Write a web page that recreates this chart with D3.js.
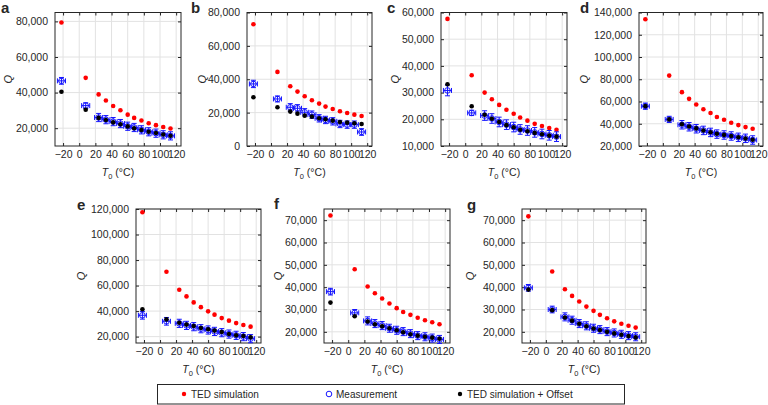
<!DOCTYPE html>
<html><head><meta charset="utf-8">
<script src="https://cdn.jsdelivr.net/npm/d3@7"></script>
<style>
body{margin:0;background:#fff}
text{font-family:"Liberation Sans",Arial,Helvetica,sans-serif;fill:#262626}
</style>
</head><body>
<svg id="chart" width="768" height="405"></svg>
<script>
// ---------------- data ----------------
const temps = [-22, 8, 24, 33, 42, 51, 60, 68, 77, 86, 95, 104, 113];
const xTicks = [-20, 0, 20, 40, 60, 80, 100, 120];
const xErr = [5, 5, 5, 5, 5, 5, 5, 5, 5, 5, 5, 5, 5];

const simA  = [79400, 48300, 39000, 35600, 32500, 30100, 27600, 25800, 24300, 22800, 21700, 20700, 19800];
const measA = [46600, 32700, 26000, 24800, 23700, 22600, 21100, 20400, 19100, 18000, 17200, 16300, 15700];
const offA  = [40500, 30400, 25800, 24600, 23300, 22200, 21000, 20000, 19000, 18000, 17300, 16500, 15800];
const errA  = [1900, 1600, 2300, 2300, 2300, 2300, 2300, 2300, 2300, 2300, 2300, 2300, 2300];
const yTicksA = [20000, 40000, 60000, 80000];

const simB  = [73000, 44400, 35800, 32600, 29800, 27400, 25400, 23600, 22200, 20800, 19800, 18800, 18000];
const measB = [37200, 28200, 23200, 22600, 20200, 18800, 16600, 15600, 14800, 13200, 12800, 12800, 8400];
const offB  = [29200, 23200, 20600, 19400, 18200, 17600, 16600, 16000, 15200, 14400, 14000, 13600, 13200];
const errB  = [2200, 1800, 2200, 2200, 2200, 2200, 2200, 2200, 2200, 2200, 2200, 2200, 2000];
const yTicksB = [0, 20000, 40000, 60000, 80000];

const simC  = [57600, 36500, 30000, 27500, 25400, 23600, 22100, 20700, 19500, 18300, 17500, 16700, 16100];
const measC = [30800, 22400, 21400, 20300, 19000, 18000, 17100, 16200, 15800, 15100, 14500, 14000, 13500];
const offC  = [33100, 24900, 21700, 20200, 19000, 17800, 17000, 16100, 15500, 14900, 14400, 13900, 13500];
const errC  = [2000, 1000, 1800, 1800, 1800, 1800, 1800, 1800, 1800, 1800, 1800, 1800, 1800];
const yTicksC = [10000, 20000, 30000, 40000, 50000, 60000];

const simD  = [134000, 83300, 68400, 62400, 57300, 53100, 49600, 46000, 43600, 40900, 38800, 37000, 35500];
const measD = [55800, 43900, 39100, 37300, 35500, 34000, 32200, 30700, 29900, 29000, 27800, 26900, 25400];
const offD  = [55800, 43900, 39500, 37500, 35800, 34000, 32400, 31000, 30000, 29000, 27800, 26800, 25600];
const errD  = [2800, 2800, 3800, 3800, 3800, 3800, 3800, 3800, 3800, 3800, 3800, 3800, 3800];
const yTicksD = [20000, 40000, 60000, 80000, 100000, 120000, 140000];

const simE  = [117400, 70800, 56700, 51500, 46800, 43100, 39800, 37200, 34500, 32500, 30600, 29100, 27800];
const measE = [36700, 32000, 30400, 28800, 27800, 26200, 25200, 24100, 23100, 22000, 21000, 20000, 18400];
const offE  = [41400, 33500, 30900, 29400, 28300, 26800, 25800, 24700, 23600, 22000, 21000, 20500, 19400];
const errE  = [3000, 3000, 3200, 3200, 3200, 3200, 3200, 3200, 3200, 3200, 3200, 3200, 3200];
const yTicksE = [20000, 40000, 60000, 80000, 100000, 120000];

const simF  = [72100, 48000, 40300, 37300, 34900, 32700, 30600, 28900, 27600, 26300, 25200, 24300, 23400];
const measF = [38000, 28500, 24900, 23700, 22800, 21600, 20700, 20100, 19200, 18300, 17800, 17200, 16600];
const offF  = [33100, 27000, 24600, 23400, 22500, 21600, 20700, 19800, 18900, 18300, 17800, 17400, 16900];
const errF  = [1500, 1500, 1800, 1800, 1800, 1800, 1800, 1800, 1800, 1800, 1800, 1800, 1800];
const yTicksF = [20000, 30000, 40000, 50000, 60000, 70000];

const simG  = [71700, 47000, 39100, 36100, 33600, 31300, 29400, 27600, 26100, 24700, 23600, 22700, 21900];
const measG = [39700, 30000, 26700, 25200, 23700, 22700, 21600, 21000, 20100, 19500, 18900, 18300, 17800];
const offG  = [38900, 29700, 26400, 25000, 23600, 22500, 21500, 20800, 20000, 19300, 18700, 18100, 17500];
const errG  = [1500, 1500, 1800, 1800, 1800, 1800, 1800, 1800, 1800, 1800, 1800, 1800, 1800];
const yTicksG = [20000, 30000, 40000, 50000, 60000, 70000];

const legendLabels = ["TED simulation", "Measurement", "TED simulation + Offset"];

// ---------------- layout ----------------
const RED = "#ff0000", BLUE = "#1414ff", BLACK = "#000000";
const xDom = [-30, 126];
const panels = [
  {id:"a", sim:simA, meas:measA, off:offA, err:errA, yDom:[10000, 85000], yTicks:yTicksA, L:55,  R:181, T:12.5, B:146, qx:9,   lx:1,   ly:12.5},
  {id:"b", sim:simB, meas:measB, off:offB, err:errB, yDom:[0, 80000],     yTicks:yTicksB, L:247, R:372, T:12.5, B:146, qx:203, lx:191, ly:12.5},
  {id:"c", sim:simC, meas:measC, off:offC, err:errC, yDom:[10000, 60000], yTicks:yTicksC, L:441, R:567, T:12.5, B:146, qx:396, lx:387, ly:12.5},
  {id:"d", sim:simD, meas:measD, off:offD, err:errD, yDom:[20000, 140000],yTicks:yTicksD, L:639, R:763, T:12.5, B:146, qx:585, lx:580, ly:12.5},
  {id:"e", sim:simE, meas:measE, off:offE, err:errE, yDom:[15000, 120000],yTicks:yTicksE, L:136, R:261, T:209, B:343, qx:82,  lx:77,  ly:210},
  {id:"f", sim:simF, meas:measF, off:offF, err:errF, yDom:[15000, 75000], yTicks:yTicksF, L:324, R:450, T:209, B:343, qx:279, lx:274, ly:209},
  {id:"g", sim:simG, meas:measG, off:offG, err:errG, yDom:[15000, 75000], yTicks:yTicksG, L:522, R:646, T:209, B:343, qx:471, lx:467, ly:210}
];

const svg = d3.select("#chart");
const fmtY = d3.format(",");
const fmtX = d => d < 0 ? "\u2212" + Math.abs(d) : String(d);

panels.forEach(p => {
  const x = d3.scaleLinear().domain(xDom).range([p.L, p.R]);
  const y = d3.scaleLinear().domain(p.yDom).range([p.B, p.T]);
  const g = svg.append("g");

  // grid
  g.selectAll(".gx").data(xTicks).join("line")
    .attr("x1", d => x(d)).attr("x2", d => x(d)).attr("y1", p.T).attr("y2", p.B)
    .attr("stroke", "#e2e2e2").attr("stroke-width", 1);
  g.selectAll(".gy").data(p.yTicks).join("line")
    .attr("x1", p.L).attr("x2", p.R).attr("y1", d => y(d)).attr("y2", d => y(d))
    .attr("stroke", "#e2e2e2").attr("stroke-width", 1);

  // axes
  const styleAxis = sel => {
    sel.select(".domain").remove();
    sel.selectAll("line").attr("stroke", "#262626");
    sel.selectAll("text").attr("font-size", "10.5px").attr("fill", "#262626")
      .attr("font-family", '"Liberation Sans",Arial,sans-serif');
  };
  g.append("g").attr("transform", `translate(0,${p.B})`)
    .call(d3.axisBottom(x).tickValues(xTicks).tickSize(-3).tickPadding(5).tickFormat(fmtX)).call(styleAxis);
  g.append("g").attr("transform", `translate(0,${p.T})`)
    .call(d3.axisTop(x).tickValues(xTicks).tickSize(-3).tickFormat("")).call(styleAxis);
  g.append("g").attr("transform", `translate(${p.L},0)`)
    .call(d3.axisLeft(y).tickValues(p.yTicks).tickSize(-3).tickPadding(7).tickFormat(fmtY)).call(styleAxis);
  g.append("g").attr("transform", `translate(${p.R},0)`)
    .call(d3.axisRight(y).tickValues(p.yTicks).tickSize(-3).tickFormat("")).call(styleAxis);

  // box
  g.append("rect").attr("x", p.L).attr("y", p.T).attr("width", p.R - p.L).attr("height", p.B - p.T)
    .attr("fill", "none").attr("stroke", "#262626").attr("stroke-width", 1);

  // data
  const idx = d3.range(temps.length);
  // red simulation
  g.selectAll(".sim").data(idx).join("circle")
    .attr("cx", i => x(temps[i])).attr("cy", i => y(p.sim[i])).attr("r", 2.3).attr("fill", RED);
  // blue measurement with error bars
  const cap = 2.5;
  const eb = g.append("g").attr("stroke", BLUE).attr("stroke-width", 1).attr("fill", "none");
  idx.forEach(i => {
    const cx = x(temps[i]), cy = y(p.meas[i]);
    const x0 = x(temps[i] - xErr[i]), x1 = x(temps[i] + xErr[i]);
    const y0 = y(p.meas[i] - p.err[i]), y1 = y(p.meas[i] + p.err[i]);
    eb.append("line").attr("x1", x0).attr("x2", x1).attr("y1", cy).attr("y2", cy);
    eb.append("line").attr("x1", x0).attr("x2", x0).attr("y1", cy - cap).attr("y2", cy + cap);
    eb.append("line").attr("x1", x1).attr("x2", x1).attr("y1", cy - cap).attr("y2", cy + cap);
    eb.append("line").attr("x1", cx).attr("x2", cx).attr("y1", y0).attr("y2", y1);
    eb.append("line").attr("x1", cx - cap).attr("x2", cx + cap).attr("y1", y0).attr("y2", y0);
    eb.append("line").attr("x1", cx - cap).attr("x2", cx + cap).attr("y1", y1).attr("y2", y1);
    eb.append("circle").attr("cx", cx).attr("cy", cy).attr("r", 2.8);
  });
  // black offset
  g.selectAll(".off").data(idx).join("circle")
    .attr("cx", i => x(temps[i])).attr("cy", i => y(p.off[i])).attr("r", 2.3).attr("fill", BLACK);

  // labels
  g.append("text").attr("transform", `translate(${p.qx},${(p.T + p.B) / 2}) rotate(-90)`)
    .attr("text-anchor", "middle").attr("dominant-baseline", "middle")
    .attr("font-size", "11px").attr("font-style", "italic").text("Q");
  const xl = g.append("text").attr("x", (p.L + p.R) / 2).attr("y", p.B + 30)
    .attr("text-anchor", "middle").attr("font-size", "10.5px");
  xl.append("tspan").attr("font-style", "italic").text("T");
  xl.append("tspan").attr("font-size", "7.5px").attr("dy", 3).text("0");
  xl.append("tspan").attr("dy", -3).text(" (\u00B0C)");
  g.append("text").attr("x", p.lx).attr("y", p.ly).attr("font-size", "15px").attr("font-weight", "bold")
    .attr("fill", "#000").text(p.id);
});

// legend
const lg = svg.append("g");
lg.append("rect").attr("x", 157.5).attr("y", 384.5).attr("width", 467).attr("height", 19.5)
  .attr("fill", "#fff").attr("stroke", "#262626").attr("stroke-width", 1);
const lx = [184, 329, 460];
legendLabels.forEach((t, i) => {
  if (i === 1) lg.append("circle").attr("cx", lx[i]).attr("cy", 394).attr("r", 2.8)
    .attr("fill", "none").attr("stroke", BLUE).attr("stroke-width", 1);
  else lg.append("circle").attr("cx", lx[i]).attr("cy", 394).attr("r", 2.2).attr("fill", i === 0 ? RED : BLACK);
  lg.append("text").attr("x", lx[i] + 7).attr("y", 394).attr("dominant-baseline", "central")
    .attr("font-size", "10px").text(t);
});
</script>
</body></html>
